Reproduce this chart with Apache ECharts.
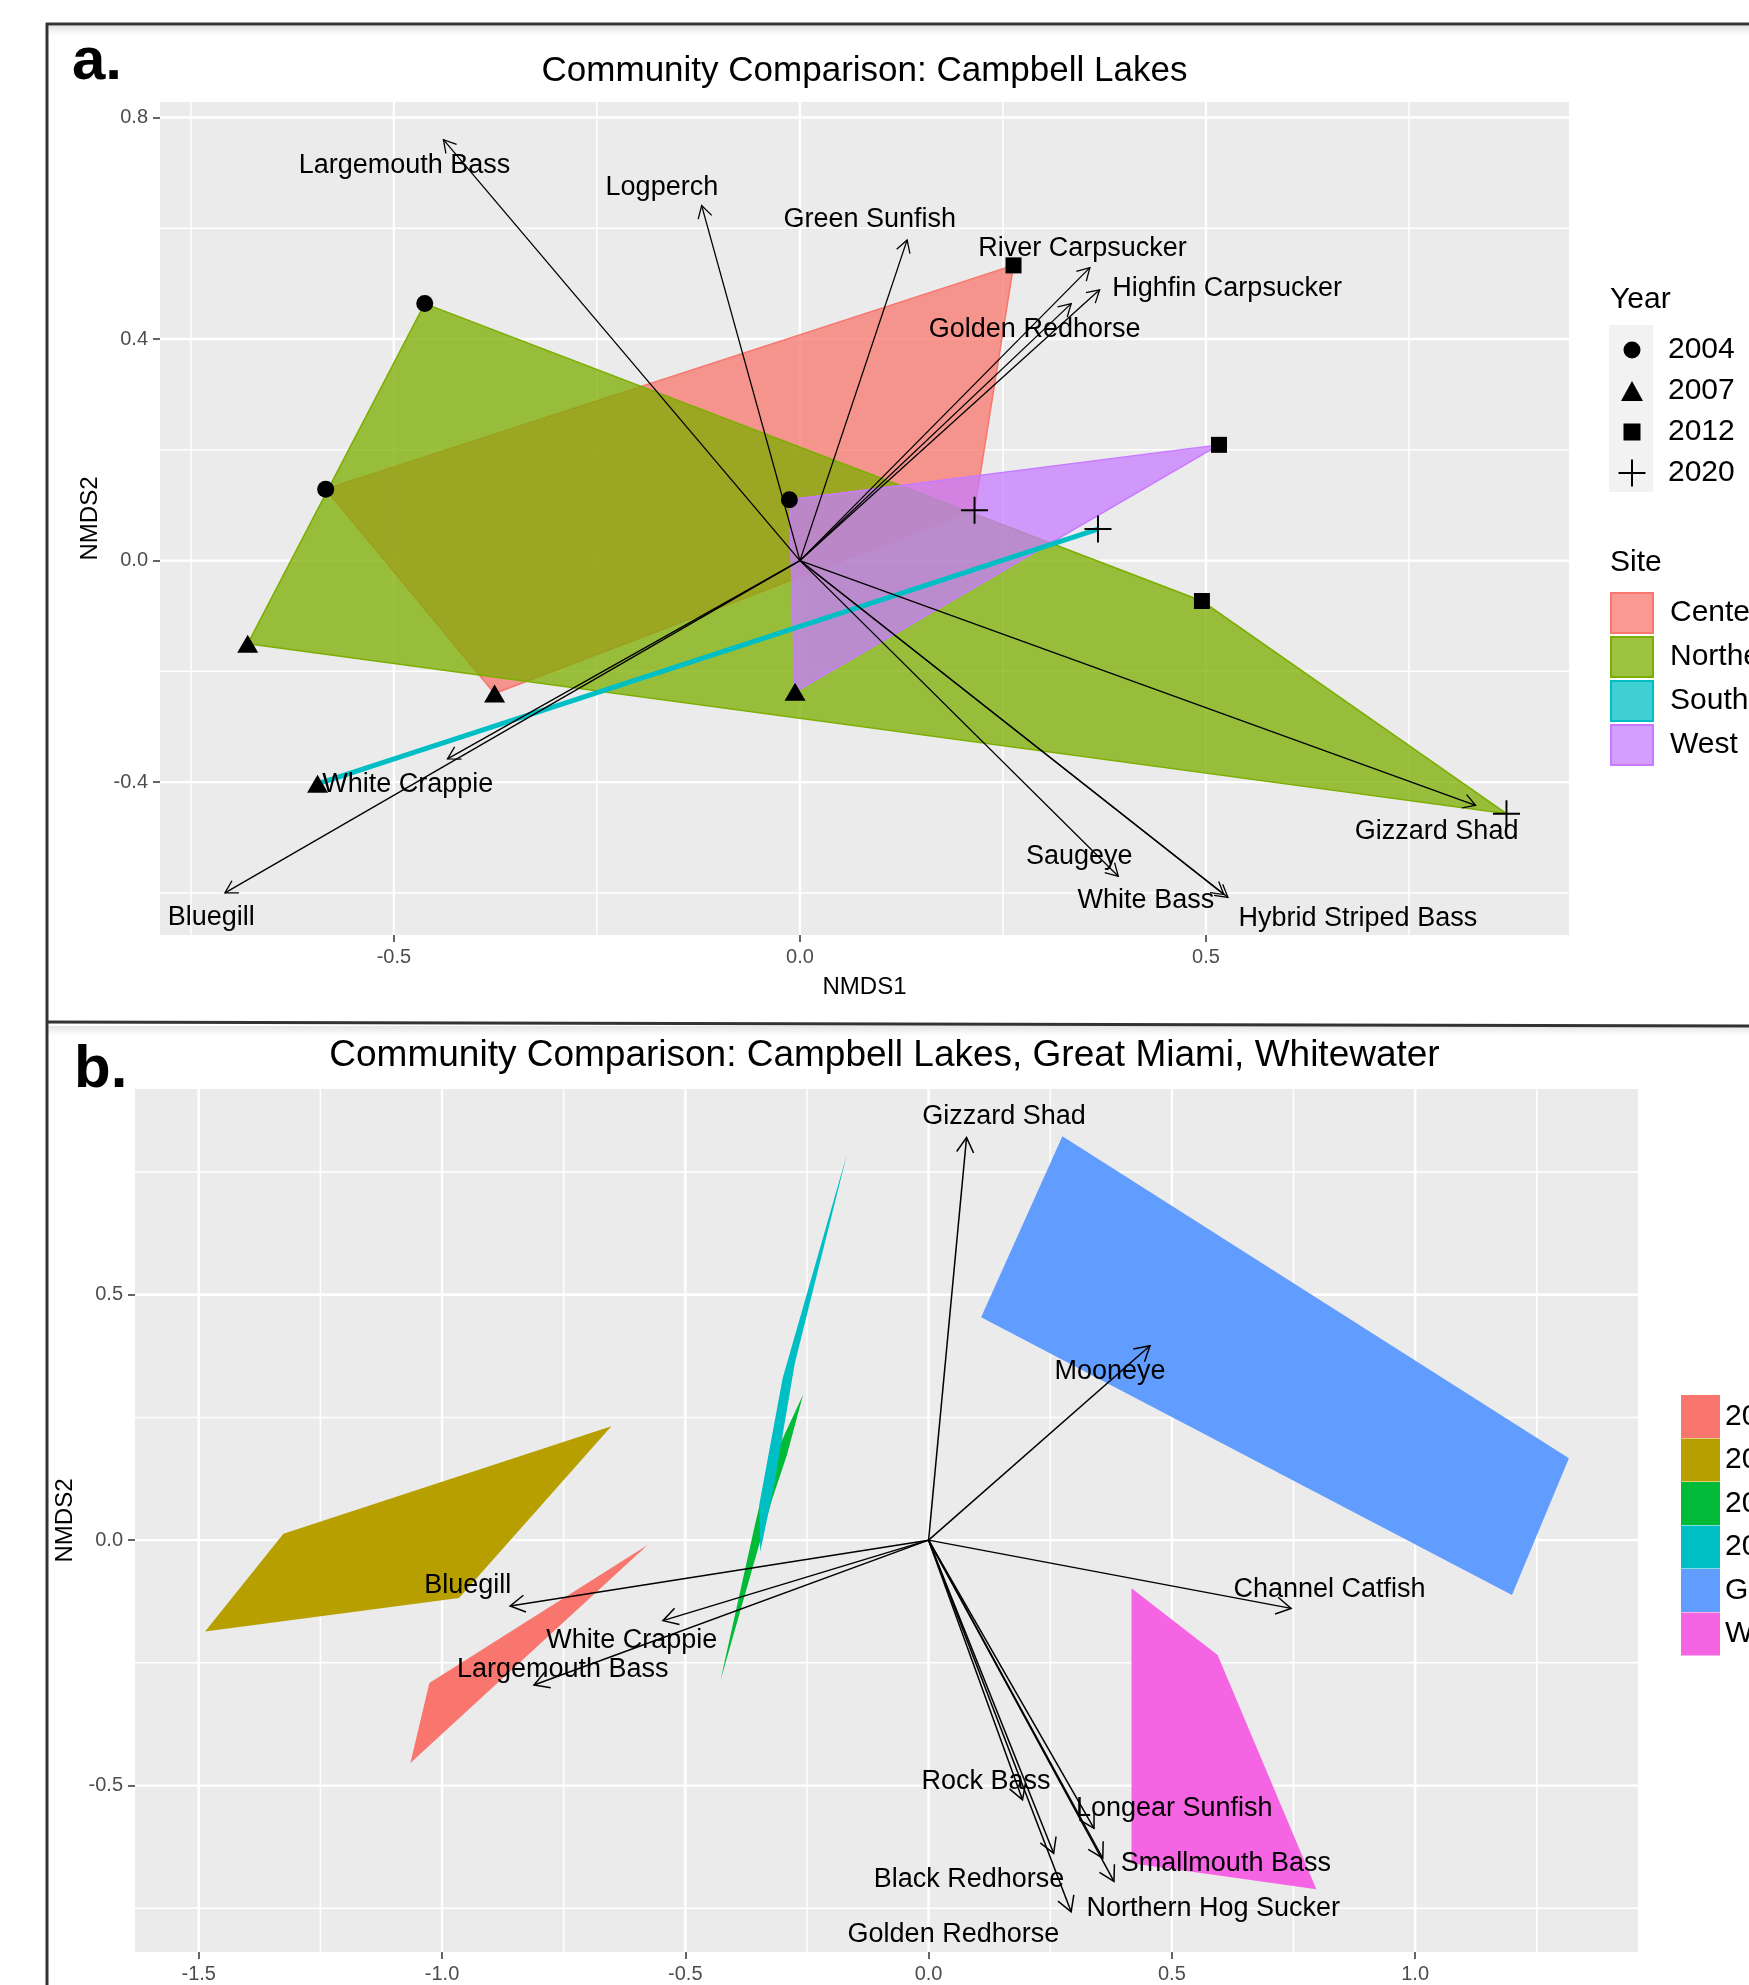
<!DOCTYPE html>
<html><head><meta charset="utf-8">
<script src="https://cdn.jsdelivr.net/npm/echarts@6/dist/echarts.min.js"></script>
<style>html,body{margin:0;padding:0;background:#fff}#c{width:1749px;height:1985px}</style>
</head><body><div id="c"></div>
<script>
// ================= Panel a: Campbell Lakes =================
const sitesA = ['Center', 'Northern', 'South', 'West'];
const yearsA = ['2004', '2007', '2012', '2020'];
const siteA  = ['Center','Northern','West', 'Center','Northern','South','West', 'Center','Northern','West', 'Center','Northern','South'];
const yearA  = ['2004','2004','2004', '2007','2007','2007','2007', '2012','2012','2012', '2020','2020','2020'];
const nmds1A = [-0.584, -0.462, -0.013, -0.376, -0.680, -0.594, -0.006, 0.263, 0.495, 0.516, 0.215, 0.870, 0.367];
const nmds2A = [ 0.129,  0.464,  0.110, -0.240, -0.150, -0.403, -0.237, 0.533, -0.073, 0.209, 0.091, -0.457, 0.057];

const speciesA = ['Largemouth Bass','Logperch','Green Sunfish','River Carpsucker','Highfin Carpsucker','Golden Redhorse','Gizzard Shad','Saugeye','White Bass','Hybrid Striped Bass','White Crappie','Bluegill'];
const vecA1 = [-0.439, -0.121, 0.132, 0.357, 0.369, 0.334, 0.832, 0.392, 0.522, 0.527, -0.434, -0.708];
const vecA2 = [ 0.760,  0.641, 0.579, 0.529, 0.489, 0.464, -0.442, -0.570, -0.603, -0.608, -0.358, -0.600];
const labA1 = [-0.487, -0.170, 0.086, 0.348, 0.526, 0.289, 0.784, 0.344, 0.426, 0.687, -0.483, -0.725];
const labA2 = [ 0.713,  0.674, 0.615, 0.564, 0.492, 0.418, -0.489, -0.535, -0.613, -0.647, -0.405, -0.645];

const xTicksA = [-0.5, 0, 0.5];
const xMinorA = [-0.75, -0.25, 0.25, 0.75];
const yTicksA = [-0.4, 0, 0.4, 0.8];
const yMinorA = [-0.6, -0.2, 0.2, 0.6];

// ================= Panel b: Campbell Lakes, Great Miami, Whitewater =================
const groupsB = ['2004', '2007', '2012', '2020', 'GMR', 'WWR'];
const poly2004B = [[-0.5775, -0.010], [-1.026, -0.291], [-1.065, -0.454]];
const poly2007B = [[-1.487, -0.186], [-1.326, 0.013], [-0.652, 0.232], [-0.965, -0.118]];
const poly2012B = [[-0.258, 0.296], [-0.291, 0.174], [-0.322, 0.082], [-0.428, -0.287], [-0.357, 0.031], [-0.330, 0.143]];
const poly2020B = [[-0.1675, 0.787], [-0.275, 0.360], [-0.318, 0.110], [-0.346, -0.024], [-0.348, 0.072], [-0.300, 0.330]];
const polyGMRB  = [[0.275, 0.823], [1.316, 0.167], [1.199, -0.112], [0.108, 0.454]];
const polyWWRB  = [[0.417, -0.098], [0.594, -0.234], [0.797, -0.711], [0.417, -0.658]];

const speciesB = ['Gizzard Shad','Mooneye','Channel Catfish','Bluegill','White Crappie','Largemouth Bass','Rock Bass','Black Redhorse','Golden Redhorse','Northern Hog Sucker','Longear Sunfish','Smallmouth Bass'];
const vecB1 = [0.078, 0.455,  0.745, -0.860, -0.546, -0.811,  0.193,  0.257,  0.358,  0.293,  0.340,  0.381];
const vecB2 = [0.820, 0.396, -0.139, -0.134, -0.164, -0.295, -0.529, -0.638, -0.648, -0.757, -0.587, -0.695];
const labB1 = [0.155, 0.373,  0.824, -0.947, -0.610, -0.752,  0.118,  0.083,  0.051,  0.585,  0.505,  0.611];
const labB2 = [0.862, 0.344, -0.101, -0.093, -0.205, -0.264, -0.492, -0.692, -0.804, -0.750, -0.546, -0.658];

const xTicksB = [-1.5, -1.0, -0.5, 0, 0.5, 1.0];
const xMinorB = [-1.25, -0.75, -0.25, 0.25, 0.75, 1.25];
const yTicksB = [-0.5, 0, 0.5];
const yMinorB = [-0.75, -0.25, 0.25, 0.75];

// ================= styles =================
const FONT = "'Liberation Sans', Arial, Helvetica, sans-serif";
const siteColor = { Center: '#F8766D', Northern: '#7CAE00', South: '#00BFC4', West: '#C77CFF' };
const siteZ = { Center: 2, Northern: 2.01, West: 2.02, South: 2.03 };
const groupColorB = { '2004': '#F8766D', '2007': '#B79F00', '2012': '#00BA38', '2020': '#00BFC4', 'GMR': '#619CFF', 'WWR': '#F564E3' };
const polysB = { '2004': poly2004B, '2007': poly2007B, '2012': poly2012B, '2020': poly2020B, 'GMR': polyGMRB, 'WWR': polyWWRB };
const FILL_ALPHA = 0.75;
function rgba(hex, a) {
  const n = parseInt(hex.slice(1), 16);
  return 'rgba(' + ((n >> 16) & 255) + ',' + ((n >> 8) & 255) + ',' + (n & 255) + ',' + a + ')';
}
const yearSymbol = { '2004': 'circle', '2007': 'triangle', '2012': 'rect', '2020': 'path://M0,13H28V15H0Z M13,0H15V28H13Z' };
const yearSize = { '2004': 17, '2007': [21, 18], '2012': 16, '2020': 27 };
const yearIcon = {
  '2004': 'path://M0,0M28,28M14,5.5A8.5,8.5,0,1,1,14,22.5A8.5,8.5,0,1,1,14,5.5Z',
  '2007': 'path://M0,0M28,28M14,4L25,24L3,24Z',
  '2012': 'path://M0,0M28,28M5.5,5.5H22.5V22.5H5.5Z',
  '2020': 'path://M0,0M28,28M0.5,13H27.5V15H0.5Z M13,0.5H15V27.5H13Z'
};

// convex hull (monotone chain)
function hull(pts) {
  if (pts.length < 3) return pts.slice();
  const p = pts.slice().sort((a, b) => a[0] - b[0] || a[1] - b[1]);
  const cr = (o, a, b) => (a[0] - o[0]) * (b[1] - o[1]) - (a[1] - o[1]) * (b[0] - o[0]);
  const lo = [], up = [];
  for (const q of p) { while (lo.length >= 2 && cr(lo[lo.length - 2], lo[lo.length - 1], q) <= 0) lo.pop(); lo.push(q); }
  for (let i = p.length - 1; i >= 0; i--) { const q = p[i]; while (up.length >= 2 && cr(up[up.length - 2], up[up.length - 1], q) <= 0) up.pop(); up.push(q); }
  lo.pop(); up.pop();
  return lo.concat(up);
}

function gridSeries(gi, vals, isX, major) {
  return {
    type: 'custom', xAxisIndex: gi, yAxisIndex: gi, z: 1, silent: true,
    data: vals.map(v => isX ? [v, 0] : [0, v]),
    renderItem(params, api) {
      const cs = params.coordSys;
      const lw = major ? 2.4 : 1.5;
      if (isX) {
        const x = api.coord([api.value(0), 0])[0];
        return { type: 'line', shape: { x1: x, y1: cs.y, x2: x, y2: cs.y + cs.height }, style: { stroke: '#ffffff', lineWidth: lw } };
      }
      const y = api.coord([0, api.value(1)])[1];
      return { type: 'line', shape: { x1: cs.x, y1: y, x2: cs.x + cs.width, y2: y }, style: { stroke: '#ffffff', lineWidth: lw } };
    }
  };
}

function polySeries(name, verts, gi, fill, stroke, z) {
  return {
    type: 'custom', name, xAxisIndex: gi, yAxisIndex: gi, z, silent: true,
    itemStyle: { color: fill },
    data: verts,
    renderItem(params, api) {
      if (params.dataIndex !== 0) return null;
      const pts = verts.map(v => api.coord(v));
      if (pts.length < 3) {
        return { type: 'polyline', shape: { points: pts }, style: { stroke: stroke, lineWidth: 5, fill: null } };
      }
      return { type: 'polygon', shape: { points: pts }, style: { fill: fill, stroke: stroke || null, lineWidth: stroke ? 1.5 : 0 } };
    }
  };
}

function arrowSeries(gi, v1, v2, L, lw) {
  return {
    type: 'custom', xAxisIndex: gi, yAxisIndex: gi, z: 5, silent: true,
    data: v1.map((x, i) => [x, v2[i]]),
    renderItem(params, api) {
      const o = api.coord([0, 0]);
      const t = api.coord([api.value(0), api.value(1)]);
      const ang = Math.atan2(t[1] - o[1], t[0] - o[0]);
      const a = Math.PI / 6;
      const p1 = [t[0] - L * Math.cos(ang - a), t[1] - L * Math.sin(ang - a)];
      const p2 = [t[0] - L * Math.cos(ang + a), t[1] - L * Math.sin(ang + a)];
      return {
        type: 'group', children: [
          { type: 'line', shape: { x1: o[0], y1: o[1], x2: t[0], y2: t[1] }, style: { stroke: '#000', lineWidth: lw } },
          { type: 'polyline', shape: { points: [p1, t, p2] }, style: { stroke: '#000', lineWidth: lw, fill: null } }
        ]
      };
    }
  };
}

function labelSeries(gi, names, l1, l2, fs) {
  return {
    type: 'custom', xAxisIndex: gi, yAxisIndex: gi, z: 6, silent: true,
    data: l1.map((x, i) => [x, l2[i]]),
    renderItem(params, api) {
      const p = api.coord([api.value(0), api.value(1)]);
      return { type: 'text', x: p[0], y: p[1], style: { text: names[params.dataIndex], align: 'center', verticalAlign: 'middle', fontSize: fs, fontFamily: FONT, fill: '#000' } };
    }
  };
}

const fmt = v => Number(v).toFixed(1);
function axisCommon(ticks, extra) {
  return Object.assign({
    type: 'value',
    axisLine: { show: false, onZero: false },
    splitLine: { show: false },
    axisTick: { show: true, length: 7, lineStyle: { color: '#333333', width: 1.5 }, customValues: ticks },
    axisLabel: { customValues: ticks, formatter: fmt, color: '#4D4D4D', fontSize: 20, fontFamily: FONT, margin: 12 },
    nameTextStyle: { fontSize: 24, color: '#000', fontFamily: FONT }
  }, extra);
}

const series = [];
// panel a grid lines
series.push(gridSeries(0, xMinorA, true, false), gridSeries(0, yMinorA, false, false),
            gridSeries(0, xTicksA, true, true), gridSeries(0, yTicksA, false, true));
// panel a hulls
sitesA.forEach(s => {
  const pts = [];
  siteA.forEach((ss, i) => { if (ss === s) pts.push([nmds1A[i], nmds2A[i]]); });
  series.push(polySeries(s, hull(pts), 0, rgba(siteColor[s], FILL_ALPHA), siteColor[s], siteZ[s]));
});
// panel a points
yearsA.forEach(y => {
  const d = [];
  yearA.forEach((yy, i) => { if (yy === y) d.push([nmds1A[i], nmds2A[i]]); });
  series.push({ type: 'scatter', name: y, xAxisIndex: 0, yAxisIndex: 0, z: 4, silent: true,
    symbol: yearSymbol[y], symbolSize: yearSize[y], itemStyle: { color: '#000', opacity: 1 }, data: d });
});
series.push(arrowSeries(0, vecA1, vecA2, 14, 1.3));
series.push(labelSeries(0, speciesA, labA1, labA2, 27));

// panel b
series.push(gridSeries(1, xMinorB, true, false), gridSeries(1, yMinorB, false, false),
            gridSeries(1, xTicksB, true, true), gridSeries(1, yTicksB, false, true));
groupsB.forEach((g, k) => {
  series.push(polySeries('b' + g, polysB[g], 1, groupColorB[g], null, 2 + k * 0.01));
});
series.push(arrowSeries(1, vecB1, vecB2, 17, 1.5));
series.push(labelSeries(1, speciesB, labB1, labB2, 27));

const shadow = () => new echarts.graphic.LinearGradient(0, 0, 0, 1, [
  { offset: 0, color: 'rgba(0,0,0,0.10)' }, { offset: 1, color: 'rgba(0,0,0,0)' }]);

const option = {
  animation: false,
  backgroundColor: '#ffffff',
  textStyle: { fontFamily: FONT },
  grid: [
    { left: 160, top: 102, width: 1409, height: 833, show: true, backgroundColor: '#EBEBEB', borderWidth: 0, containLabel: false, outerBoundsMode: 'none' },
    { left: 135, top: 1089, width: 1503, height: 863, show: true, backgroundColor: '#EBEBEB', borderWidth: 0, containLabel: false, outerBoundsMode: 'none' }
  ],
  xAxis: [
    axisCommon(xTicksA, { gridIndex: 0, min: -0.788, max: 0.947, name: 'NMDS1', nameLocation: 'middle', nameGap: 40 }),
    axisCommon(xTicksB, { gridIndex: 1, min: -1.631, max: 1.458 })
  ],
  yAxis: [
    axisCommon(yTicksA, { gridIndex: 0, min: -0.676, max: 0.828, name: 'NMDS2', nameLocation: 'middle', nameGap: 52, nameRotate: 90 }),
    axisCommon(yTicksB, { gridIndex: 1, min: -0.839, max: 0.919, name: 'NMDS2', nameLocation: 'middle', nameGap: 49, nameRotate: 90 })
  ],
  legend: [
    { id: 'year', orient: 'vertical', left: 1613, top: 330, itemWidth: 62, itemHeight: 28, itemGap: 11, selectedMode: false, z: 10,
      textStyle: { fontSize: 30, color: '#000', fontFamily: FONT },
      data: yearsA.map(y => ({ name: y, icon: yearIcon[y], itemStyle: { color: '#000', borderWidth: 0 } })) },
    { id: 'site', orient: 'vertical', left: 1605, top: 587, itemWidth: 66, itemHeight: 40, itemGap: 2, selectedMode: false, z: 10,
      textStyle: { fontSize: 30, color: '#000', fontFamily: FONT },
      data: sitesA.map(s => ({ name: s, icon: 'path://M0,0H42V40H0Z', itemStyle: { color: rgba(siteColor[s], FILL_ALPHA), borderColor: siteColor[s], borderWidth: 2 } })) },
    { id: 'groupsB', orient: 'vertical', left: 1676, top: 1390, itemWidth: 39, itemHeight: 43, itemGap: 0.5, selectedMode: false, z: 10,
      textStyle: { fontSize: 30, color: '#000', fontFamily: FONT },
      formatter: n => n.slice(1),
      data: groupsB.map(g => ({ name: 'b' + g, icon: 'rect', itemStyle: { color: groupColorB[g], borderWidth: 0 } })) }
  ],
  graphic: [
    { type: 'rect', z: 1, shape: { x: 49, y: 26, width: 1700, height: 10 }, style: { fill: shadow() } },
    { type: 'rect', z: 1, shape: { x: 49, y: 1026, width: 1700, height: 10 }, style: { fill: shadow() } },
    { type: 'line', z: 2, shape: { x1: 47, y1: 23, x2: 47, y2: 1985 }, style: { stroke: '#333', lineWidth: 3 } },
    { type: 'line', z: 2, shape: { x1: 46, y1: 24, x2: 1749, y2: 24 }, style: { stroke: '#333', lineWidth: 3 } },
    { type: 'line', z: 2, shape: { x1: 46, y1: 1022, x2: 1749, y2: 1026 }, style: { stroke: '#333', lineWidth: 3 } },
    { type: 'rect', z: 1, shape: { x: 1609, y: 325, width: 44, height: 167 }, style: { fill: '#F2F2F2' } },
    { type: 'text', z: 3, x: 72, y: 62, style: { text: 'a.', font: 'bold 60px ' + FONT, fill: '#000', align: 'left', verticalAlign: 'middle' } },
    { type: 'text', z: 3, x: 74, y: 1070, style: { text: 'b.', font: 'bold 60px ' + FONT, fill: '#000', align: 'left', verticalAlign: 'middle' } },
    { type: 'text', z: 3, x: 864.5, y: 71, style: { text: 'Community Comparison: Campbell Lakes', font: '35px ' + FONT, fill: '#000', align: 'center', verticalAlign: 'middle' } },
    { type: 'text', z: 3, x: 884.5, y: 1056, style: { text: 'Community Comparison: Campbell Lakes, Great Miami, Whitewater', font: '37px ' + FONT, fill: '#000', align: 'center', verticalAlign: 'middle' } },
    { type: 'text', z: 3, x: 1610, y: 300, style: { text: 'Year', font: '30px ' + FONT, fill: '#000', align: 'left', verticalAlign: 'middle' } },
    { type: 'text', z: 3, x: 1610, y: 563, style: { text: 'Site', font: '30px ' + FONT, fill: '#000', align: 'left', verticalAlign: 'middle' } }
  ],
  series
};

const chart = echarts.init(document.getElementById('c'), null, { renderer: 'canvas', width: 1749, height: 1985 });
chart.setOption(option);
</script>
</body></html>
